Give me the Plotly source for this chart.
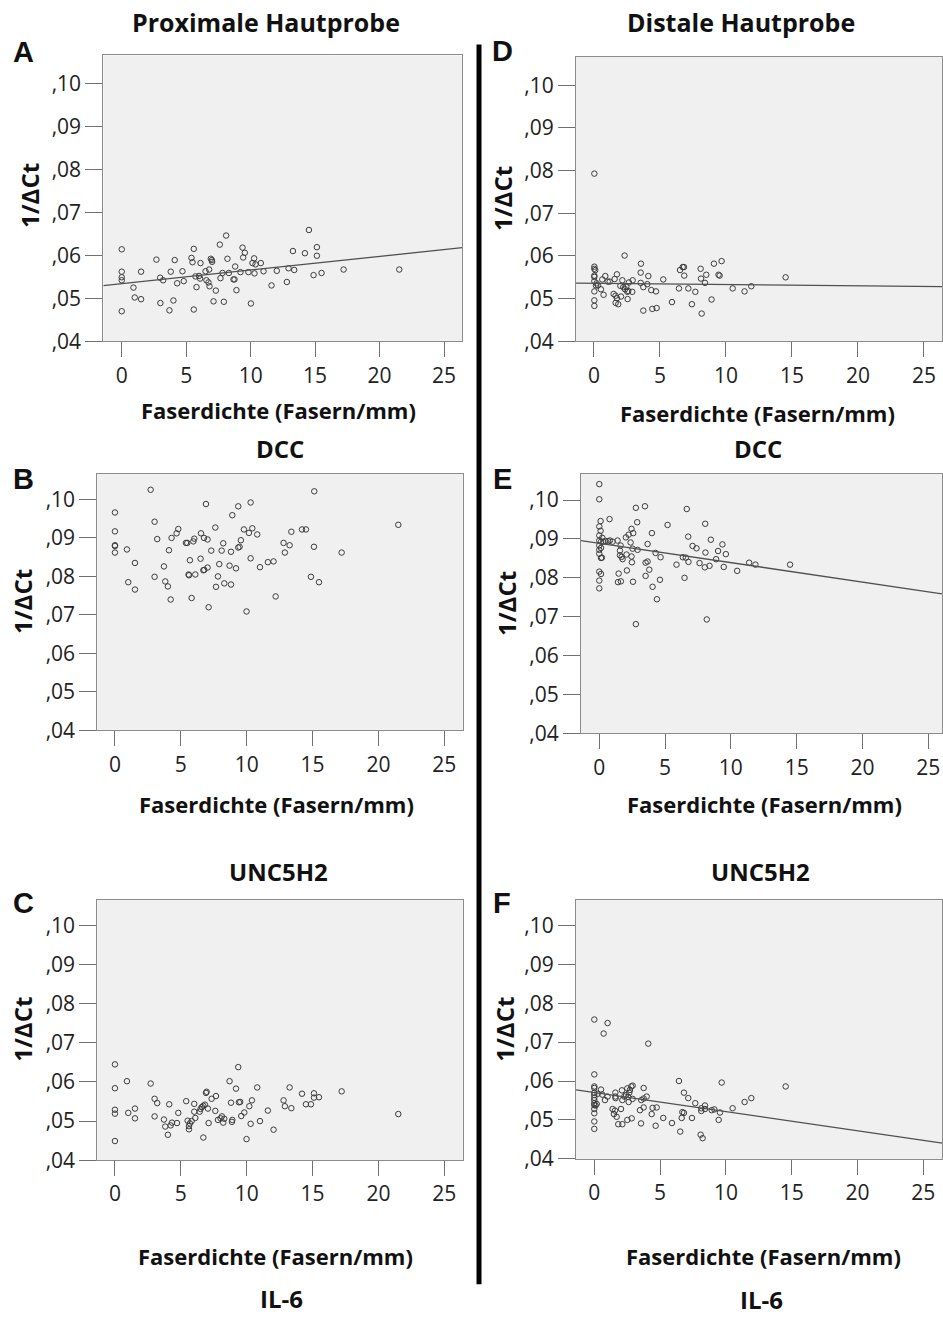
import plotly.graph_objects as go

# ---------------- data ----------------
y_tickvals = [0.04, 0.05, 0.06, 0.07, 0.08, 0.09, 0.10]
y_ticktext = [",04", ",05", ",06", ",07", ",08", ",09", ",10"]
x_tickvals = [0, 5, 10, 15, 20, 25]
x_ticktext = ["0", "5", "10", "15", "20", "25"]

col_titles = ["Proximale Hautprobe", "Distale Hautprobe"]
row_titles = ["DCC", "UNC5H2", "IL-6"]
panel_letters = ["A", "B", "C", "D", "E", "F"]
x_title = "Faserdichte (Fasern/mm)"
y_title = "1/ΔCt"

# Panel A: proximal, DCC
a_x = [0, 0, 0, 0, 0, 0.91, 1.01, 1.50, 1.50, 2.69, 2.98, 3.00, 3.21, 3.70, 3.80, 4.01, 4.11, 4.30,
       4.71, 4.81, 5.41, 5.49, 5.59, 5.59, 5.72, 5.80, 6.00, 6.08, 6.11, 6.50, 6.57, 6.73, 6.78, 6.81,
       6.91, 6.99, 7.01, 7.12, 7.30, 7.61, 7.66, 7.82, 7.92, 8.10, 8.20, 8.31, 8.67, 8.75, 8.80, 8.90,
       9.21, 9.37, 9.42, 9.55, 9.83, 10.02, 10.27, 10.30, 10.38, 10.14, 10.79, 11.00, 11.62, 12.03,
       12.81, 12.94, 13.28, 13.38, 14.21, 14.52, 14.88, 15.14, 15.14, 15.50, 17.21, 21.53]
a_y = [0.0614, 0.0562, 0.0549, 0.0542, 0.0470, 0.0525, 0.0502, 0.0562, 0.0498, 0.0590, 0.0548, 0.0489,
       0.0542, 0.0472, 0.0562, 0.0495, 0.0589, 0.0535, 0.0563, 0.0540, 0.0594, 0.0584, 0.0615, 0.0474,
       0.0551, 0.0526, 0.0552, 0.0546, 0.0582, 0.0563, 0.0542, 0.0537, 0.0567, 0.0528, 0.0592, 0.0589,
       0.0585, 0.0493, 0.0518, 0.0625, 0.0547, 0.0559, 0.0492, 0.0646, 0.0592, 0.0559, 0.0544, 0.0544,
       0.0574, 0.0519, 0.0561, 0.0618, 0.0595, 0.0606, 0.0561, 0.0488, 0.0593, 0.0558, 0.0579, 0.0582,
       0.0582, 0.0563, 0.0530, 0.0564, 0.0538, 0.0570, 0.0610, 0.0566, 0.0605, 0.0659, 0.0554, 0.0619,
       0.0599, 0.0559, 0.0567, 0.0567]
a_fit = [0.05343, 0.000316]   # intercept, slope

# Panel D: distal, DCC
d_x = [0.03, 0.03, 0.03, 0.03, 0.03, 0.03, 0.03, 0.03, 0.03, 0.10, 0.15, 0.20, 0.30, 0.53, 0.63, 0.73,
       0.86, 1.04, 1.19, 1.49, 1.57, 1.64, 1.64, 1.74, 1.74, 1.84, 2.00, 2.05, 2.15, 2.22, 2.32, 2.35,
       2.45, 2.53, 2.55, 2.60, 2.65, 2.90, 2.93, 3.54, 3.56, 3.54, 3.74, 3.74, 4.04, 4.12, 4.34, 4.42,
       4.70, 4.75, 5.25, 5.91, 6.44, 6.52, 6.72, 6.82, 6.84, 7.15, 7.42, 7.68, 8.08, 8.11, 8.16, 8.41,
       8.51, 8.91, 9.09, 9.44, 9.52, 9.67, 10.51, 11.41, 11.92, 14.52]
d_y = [0.0793, 0.0575, 0.0570, 0.0554, 0.0551, 0.0541, 0.0517, 0.0496, 0.0483, 0.0567, 0.0531, 0.0536,
       0.0531, 0.0522, 0.0545, 0.0509, 0.0553, 0.0540, 0.0540, 0.0511, 0.0546, 0.0507, 0.0490, 0.0557,
       0.0501, 0.0487, 0.0530, 0.0505, 0.0543, 0.0527, 0.0601, 0.0522, 0.0528, 0.0516, 0.0499, 0.0518,
       0.0538, 0.0516, 0.0543, 0.0561, 0.0582, 0.0537, 0.0527, 0.0472, 0.0534, 0.0553, 0.0520, 0.0476,
       0.0517, 0.0478, 0.0545, 0.0492, 0.0524, 0.0567, 0.0574, 0.0574, 0.0554, 0.0524, 0.0487, 0.0516,
       0.0570, 0.0547, 0.0465, 0.0537, 0.0556, 0.0498, 0.0582, 0.0556, 0.0554, 0.0588, 0.0524, 0.0517,
       0.0529, 0.0550]
d_fit = [0.05362, -0.0000306]

# Panel B: proximal, UNC5H2
b_x = [2.71, 15.13, 6.91, 10.30, 9.36, 0, 8.91, 3.01, 0, 4.81, 4.68, 7.62, 6.53, 9.79, 10.43, 10.17,
       10.80, 13.39, 14.20, 14.50, 21.51, 3.21, 4.30, 6.02, 5.95, 6.76, 7.03, 5.39, 5.49, 8.22, 9.56,
       12.80, 13.26, 0, 0, 0, 0.91, 4.10, 7.31, 8.10, 8.81, 9.36, 9.46, 12.90, 15.11, 17.21, 1.52, 3.72,
       5.69, 6.50, 7.92, 8.70, 9.19, 10.30, 11.01, 11.61, 12.04, 3.01, 3.82, 4.02, 1.01, 1.52, 5.59,
       5.62, 6.10, 6.71, 6.78, 7.03, 7.82, 7.67, 8.30, 8.81, 14.88, 15.49, 4.23, 5.82, 7.11, 9.99, 12.20]
b_y = [0.1025, 0.1021, 0.0988, 0.0992, 0.0982, 0.0966, 0.0959, 0.0942, 0.0917, 0.0923, 0.0912, 0.0927,
       0.0912, 0.0922, 0.0925, 0.0913, 0.0909, 0.0916, 0.0922, 0.0922, 0.0934, 0.0897, 0.0900, 0.0898,
       0.0891, 0.0900, 0.0896, 0.0887, 0.0887, 0.0886, 0.0894, 0.0887, 0.0881, 0.0881, 0.0879, 0.0862,
       0.0870, 0.0868, 0.0867, 0.0867, 0.0864, 0.0875, 0.0877, 0.0862, 0.0877, 0.0862, 0.0835, 0.0826,
       0.0842, 0.0846, 0.0832, 0.0828, 0.0821, 0.0847, 0.0824, 0.0837, 0.0839, 0.0799, 0.0787, 0.0774,
       0.0785, 0.0766, 0.0805, 0.0803, 0.0805, 0.0816, 0.0817, 0.0823, 0.0800, 0.0773, 0.0782, 0.0779,
       0.0799, 0.0785, 0.0740, 0.0744, 0.0720, 0.0709, 0.0748]

# Panel E: distal, UNC5H2
e_x = [0, 0, 0.10, 0, 0.10, 0, 0.23, 0, 0.13, 0.30, 0.48, 0.68, 0.81, 1.01, 1.39, 0, 0.13, 0, 0, 0.13,
       0.20, 0, 0.13, 0, 0, 0.78, 1.62, 1.57, 1.57, 1.77, 1.70, 2.07, 2.45, 2.48, 1.47, 1.42, 1.64, 2.10,
       2.56, 2.02, 2.23, 2.45, 2.58, 2.38, 2.53, 2.91, 2.78, 3.47, 2.88, 4.00, 3.67, 4.28, 4.66, 3.52,
       3.67, 3.80, 3.52, 4.61, 4.05, 4.38, 2.78, 5.19, 6.65, 6.76, 7.09, 7.39, 8.05, 8.48, 9.36, 9.03,
       9.62, 8.07, 6.35, 6.58, 6.78, 5.87, 7.62, 8.02, 8.38, 8.88, 9.46, 10.48, 11.39, 11.87, 14.50,
       6.48, 8.17]
e_y = [0.1041, 0.1002, 0.0946, 0.0932, 0.0921, 0.0909, 0.0903, 0.0896, 0.0893, 0.0893, 0.0895, 0.0894,
       0.0896, 0.0893, 0.0896, 0.0883, 0.0877, 0.0872, 0.0862, 0.0851, 0.0852, 0.0816, 0.0810, 0.0793,
       0.0773, 0.0951, 0.0883, 0.0870, 0.0858, 0.0848, 0.0854, 0.0860, 0.0855, 0.0840, 0.0811, 0.0789,
       0.0791, 0.0819, 0.0790, 0.0904, 0.0911, 0.0926, 0.0915, 0.0891, 0.0875, 0.0872, 0.0980, 0.0984,
       0.0943, 0.0915, 0.0887, 0.0864, 0.0853, 0.0839, 0.0842, 0.0821, 0.0805, 0.0795, 0.0777, 0.0745,
       0.0681, 0.0936, 0.0977, 0.0906, 0.0882, 0.0876, 0.0939, 0.0898, 0.0886, 0.0869, 0.0861, 0.0865,
       0.0853, 0.0852, 0.0841, 0.0834, 0.0838, 0.0827, 0.0831, 0.0848, 0.0828, 0.0818, 0.0839, 0.0834,
       0.0834, 0.0800, 0.0693]
e_fit = [0.0889, -0.000499]

# Panel C: proximal, IL-6
c_x = [0, 0, 0, 0, 0, 0.91, 1.01, 1.52, 1.52, 2.71, 3.01, 3.21, 3.01, 3.72, 3.82, 4.02, 4.12, 4.23,
       4.33, 4.71, 4.81, 5.41, 5.52, 5.62, 5.62, 5.69, 5.82, 6.02, 6.02, 6.10, 6.43, 6.50, 6.60, 6.71,
       6.83, 6.71, 6.91, 6.96, 7.06, 7.11, 7.34, 7.67, 7.62, 7.82, 8.02, 8.12, 8.22, 8.30, 8.70, 8.81,
       8.88, 8.91, 9.19, 9.36, 9.41, 9.51, 9.59, 9.82, 9.99, 10.20, 10.30, 10.40, 10.80, 11.01, 11.61,
       12.04, 12.80, 12.90, 13.26, 13.39, 14.20, 14.50, 14.88, 15.11, 15.11, 15.49, 17.21, 21.51]
c_y = [0.0645, 0.0584, 0.0529, 0.0519, 0.0449, 0.0602, 0.0521, 0.0532, 0.0507, 0.0596, 0.0557, 0.0546,
       0.0512, 0.0504, 0.0486, 0.0465, 0.0543, 0.0489, 0.0496, 0.0495, 0.0521, 0.0551, 0.0501, 0.0487,
       0.0479, 0.0494, 0.0500, 0.0544, 0.0524, 0.0508, 0.0524, 0.0531, 0.0536, 0.0539, 0.0542, 0.0458,
       0.0572, 0.0575, 0.0532, 0.0495, 0.0557, 0.0564, 0.0526, 0.0503, 0.0507, 0.0512, 0.0496, 0.0506,
       0.0602, 0.0547, 0.0498, 0.0503, 0.0583, 0.0638, 0.0548, 0.0549, 0.0513, 0.0522, 0.0454, 0.0538,
       0.0493, 0.0553, 0.0586, 0.0500, 0.0527, 0.0478, 0.0553, 0.0538, 0.0586, 0.0533, 0.0570, 0.0543,
       0.0543, 0.0571, 0.0560, 0.0561, 0.0576, 0.0518]

# Panel F: distal, IL-6
f_x = [0, 1.01, 0.71, 4.10, 0, 0, 0, 0, 0, 0, 0, 0, 0, 0, 0, 0, 0, 0.10, 0.18, 0.25, 0.51, 0.61, 0.81,
       1.01, 1.60, 1.60, 1.62, 1.39, 1.49, 1.70, 1.82, 2.13, 2.03, 1.57, 2.10, 2.13, 2.28, 2.41, 2.51,
       2.58, 2.66, 2.71, 2.81, 2.91, 2.61, 2.91, 2.51, 2.84, 3.75, 3.57, 3.75, 3.98, 3.47, 3.75, 3.55,
       4.36, 4.43, 4.74, 4.66, 5.24, 5.90, 6.43, 6.53, 6.64, 6.69, 6.81, 6.81, 7.14, 7.42, 7.67, 8.08,
       8.23, 8.13, 8.13, 8.41, 8.41, 8.92, 9.12, 9.45, 9.55, 9.68, 10.51, 11.42, 11.93, 14.54]
f_y = [0.0758, 0.0749, 0.0722, 0.0696, 0.0617, 0.0586, 0.0582, 0.0570, 0.0564, 0.0557, 0.0551, 0.0543,
       0.0538, 0.0528, 0.0517, 0.0496, 0.0477, 0.0537, 0.0541, 0.0567, 0.0578, 0.0565, 0.0551, 0.0560,
       0.0570, 0.0560, 0.0556, 0.0528, 0.0515, 0.0508, 0.0489, 0.0489, 0.0528, 0.0524, 0.0576, 0.0551,
       0.0560, 0.0564, 0.0581, 0.0559, 0.0570, 0.0577, 0.0586, 0.0588, 0.0546, 0.0554, 0.0500, 0.0504,
       0.0582, 0.0551, 0.0555, 0.0560, 0.0525, 0.0532, 0.0491, 0.0515, 0.0531, 0.0532, 0.0485, 0.0505,
       0.0492, 0.0600, 0.0470, 0.0505, 0.0520, 0.0570, 0.0518, 0.0556, 0.0505, 0.0543, 0.0462, 0.0453,
       0.0530, 0.0523, 0.0537, 0.0528, 0.0525, 0.0527, 0.0500, 0.0519, 0.0596, 0.0530, 0.0546, 0.0556,
       0.0586]
f_fit = [0.05704, -0.000491]

# ---------------- layout geometry (pixels) ----------------
W, H = 943, 1325

def px(x):
    return x / W

def py(y):
    return 1 - y / H

# (letter, x data, y data, fit, plot box [x0, x1, y_top, y_bottom], x range, y range)
panels = [
    ("A", a_x, a_y, a_fit, [103.3, 462.3, 56.0, 344.7], [-1.43, 26.42], [0.04, 0.1065]),
    ("D", d_x, d_y, d_fit, [576.0, 942.3, 57.3, 344.7], [-1.36, 26.39], [0.04, 0.1067]),
    ("B", b_x, b_y, None, [97.3, 462.7, 478.3, 737.7], [-1.34, 26.40], [0.04, 0.1067]),
    ("E", e_x, e_y, e_fit, [581.0, 942.0, 478.3, 740.7], [-1.39, 26.05], [0.04, 0.1068]),
    ("C", c_x, c_y, None, [97.3, 462.7, 909.0, 1171.7], [-1.34, 26.40], [0.04, 0.1065]),
    ("F", f_x, f_y, f_fit, [576.0, 942.3, 909.0, 1170.3], [-1.39, 26.44], [0.04, 0.1065]),
]

fig = go.Figure()
layout_axes = {}
for i, (letter, xs, ys, fit, box, xr, yr) in enumerate(panels):
    n = "" if i == 0 else str(i + 1)
    xa, ya = "x" + n, "y" + n
    fig.add_trace(go.Scatter(
        x=xs, y=ys, mode="markers", xaxis=xa, yaxis=ya, showlegend=False,
        marker=dict(symbol="circle-open", size=5.5, color="#3c3c3c", line=dict(width=1)),
        hoverinfo="x+y"))
    if fit is not None:
        lx = [xr[0], xr[1]]
        ly = [fit[0] + fit[1] * v for v in lx]
        fig.add_trace(go.Scatter(
            x=lx, y=ly, mode="lines", xaxis=xa, yaxis=ya, showlegend=False,
            line=dict(color="#505050", width=1.3), hoverinfo="skip"))
    x0, x1, yt, yb = box
    layout_axes["xaxis" + n] = dict(
        domain=[px(x0), px(x1)], range=xr, anchor=ya,
        tickmode="array", tickvals=x_tickvals, ticktext=x_ticktext,
        ticks="outside", ticklen=15, tickcolor="#707070", tickwidth=1,
        showline=True, mirror=True, linecolor="#8c8c8c", linewidth=1,
        showgrid=False, zeroline=False,
        tickfont=dict(family="Open Sans", size=21, color="#222222"))
    layout_axes["yaxis" + n] = dict(
        domain=[py(yb), py(yt)], range=yr, anchor=xa,
        tickmode="array", tickvals=y_tickvals, ticktext=y_ticktext,
        ticks="outside", ticklen=17, tickcolor="#707070", tickwidth=1,
        showline=True, mirror=True, linecolor="#8c8c8c", linewidth=1,
        showgrid=False, zeroline=False,
        tickfont=dict(family="Open Sans", size=21, color="#222222"))

annotations = []

def add_text(text, x, y, size, family="Open Sans", bold=True, angle=0):
    annotations.append(dict(
        text=("<b>%s</b>" % text) if bold else text,
        x=px(x), y=py(y), xref="paper", yref="paper",
        xanchor="center", yanchor="middle", showarrow=False, textangle=angle,
        font=dict(family=family, size=size, color="#111111")))

# column headers
add_text(col_titles[0], 266, 22, 25)
add_text(col_titles[1], 741, 22, 25)

# row subtitles (gene names)
add_text(row_titles[0], 280, 453, 24)
add_text(row_titles[0], 758, 453, 24)
add_text(row_titles[1], 278, 880, 24)
add_text(row_titles[1], 760, 880, 24)
add_text(row_titles[2], 281, 1311, 24)
add_text(row_titles[2], 761, 1312, 24)

# panel letters
letter_pos = {"A": (23, 53), "D": (502, 52), "B": (23, 484), "E": (502, 484),
              "C": (23, 912), "F": (502, 912)}
for L in panel_letters:
    lx, ly = letter_pos[L]
    add_text(L, lx, ly, 29, family="Liberation Sans")

# x axis titles
for (xx, yy) in [(278, 414), (757, 417), (276, 812), (764, 812), (275, 1268), (763, 1268)]:
    add_text(x_title, xx, yy, 22)

# y axis titles
for (xx, yy) in [(29, 198), (502, 201), (22, 608), (506, 610), (23, 1040), (505, 1040)]:
    add_text(y_title, xx, yy, 24, angle=-90)

shapes = [dict(type="line", xref="paper", yref="paper",
               x0=px(479), x1=px(479), y0=py(45), y1=py(1297),
               line=dict(color="black", width=5))]

fig.update_layout(
    width=W, height=H, autosize=False,
    margin=dict(l=0, r=0, t=0, b=0),
    paper_bgcolor="white", plot_bgcolor="#f0f0f0",
    annotations=annotations, shapes=shapes,
    **layout_axes)

fig.write_html(
    "out.html",
    config={"displayModeBar": False},
    post_script="document.body.style.margin='0';document.body.style.overflow='hidden';")
